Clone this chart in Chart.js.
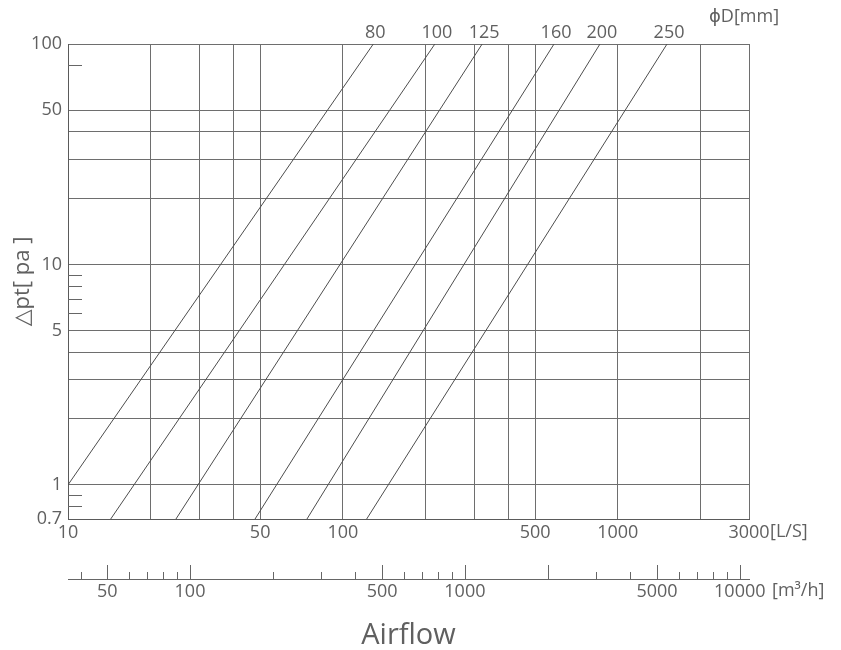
<!DOCTYPE html>
<html>
<head>
<meta charset="utf-8">
<script src="https://cdn.jsdelivr.net/npm/chart.js@4"></script>
<style>
html,body{margin:0;padding:0;background:#fff}
#wrap{width:841px;height:650px}
</style>
</head>
<body>
<div id="wrap"><canvas id="chart"></canvas></div>
<script>
// Duct diameters and the two ends of each pressure-loss line
const diameters = ['80','100','125','160','200','250'];
const flowLow = [10, 14.3, 24.7, 47.9, 74, 122];        // L/s
const dpLow = [1, 0.7, 0.7, 0.7, 0.7, 0.7];             // Pa
const flowHigh = [129, 216, 321, 586, 861, 1510];
const dpHigh = [100, 100, 100, 100, 100, 100];

// Axes
const flowGrid = [10,20,30,40,50,100,200,300,400,500,1000,2000,3000];
const flowLabels = [10,50,100,500,1000,3000];
const dpGrid = [0.7,1,2,3,4,5,10,20,30,40,50,100];
const dpLabels = [0.7,1,5,10,50,100];
const dpMinor = [0.8,0.9,6,7,8,9,80];
const m3hTicks = [40,50,60,70,80,90,100,200,300,400,500,600,700,800,900,1000,2000,3000,4000,5000,6000,7000,8000,9000,10000];
const m3hMajor = [50,100,500,1000,2000,5000,10000];
const m3hLabels = [50,100,500,1000,5000,10000];

const textColor = '#606060';
const gridColor = '#6e6e6e';
const family = '"Open Sans", "DejaVu Sans", sans-serif';
const tickFont = {family, size:18};

const datasets = diameters.map((d,i)=>({
  label:d,
  data:[{x:flowLow[i], y:dpLow[i]}, {x:flowHigh[i], y:dpHigh[i]}],
  borderColor:'#4d4d4d',
  borderWidth:1,
  pointRadius:0,
  fill:false,
  tension:0
}));

// minor ticks, line names and unit labels
const extras = {
  id:'extras',
  afterDraw(chart){
    const {ctx, chartArea:a, scales:{x, y, x2}} = chart;
    ctx.save();
    ctx.strokeStyle = '#666';
    ctx.lineWidth = 1;
    ctx.beginPath();
    dpMinor.forEach(v=>{
      const py = Math.round(y.getPixelForValue(v)) + 0.5;
      ctx.moveTo(a.left, py); ctx.lineTo(a.left + 14, py);
    });
    m3hTicks.forEach(v=>{
      const px = Math.round(x2.getPixelForValue(v)) + 0.5;
      const len = m3hMajor.includes(v) ? 14 : 7;
      ctx.moveTo(px, x2.top); ctx.lineTo(px, x2.top - len);
    });
    ctx.stroke();

    ctx.fillStyle = textColor;
    ctx.font = '18px ' + family;
    ctx.textBaseline = 'middle';
    ctx.textAlign = 'center';
    chart.data.datasets.forEach((ds,i)=>{
      const pts = chart.getDatasetMeta(i).data;
      const p = pts[pts.length-1];
      ctx.fillText(ds.label, p.x + 2, p.y - 11);
    });
    ctx.textAlign = 'left';
    ctx.fillText('[L/S]', a.right + 21, x.top + 13);
    ctx.fillText('[m³/h]', a.right + 23, x2.top + 12);
    ctx.fillText('ϕD[mm]', a.right - 40, a.top - 27);
    ctx.restore();
  }
};

new Chart(document.getElementById('chart'), {
  type:'line',
  data:{datasets},
  plugins:[extras],
  options:{
    responsive:true,
    maintainAspectRatio:false,
    animation:false,
    layout:{padding:{top:44, right:92, left:0, bottom:0}},
    plugins:{legend:{display:false}, tooltip:{enabled:false}},
    scales:{
      x:{
        type:'logarithmic', position:'bottom', min:10, max:3000,
        afterBuildTicks:s=>{ s.ticks = flowGrid.map(v=>({value:v})); },
        afterFit:s=>{ s.height = 60; },
        ticks:{autoSkip:false, maxRotation:0, padding:3, color:textColor, font:tickFont,
          callback:v=>flowLabels.includes(v) ? String(v) : ''},
        grid:{color:gridColor, drawTicks:false},
        border:{color:'#5a5a5a'}
      },
      x2:{
        type:'logarithmic', position:'bottom', weight:1, min:36, max:10800,
        afterBuildTicks:s=>{ s.ticks = m3hLabels.map(v=>({value:v})); },
        afterFit:s=>{ s.height = 71; },
        ticks:{autoSkip:false, maxRotation:0, padding:2, color:textColor, font:tickFont,
          callback:v=>String(v)},
        grid:{drawOnChartArea:false, drawTicks:false},
        border:{color:'#666'},
        title:{display:true, text:'Airflow', color:textColor, font:{family, size:29, lineHeight:1}, padding:0}
      },
      y:{
        type:'logarithmic', min:0.7, max:100,
        afterBuildTicks:s=>{ s.ticks = dpGrid.map(v=>({value:v})); },
        afterFit:s=>{ s.width = 68; },
        ticks:{autoSkip:false, padding:6, color:textColor, font:tickFont,
          callback:v=>dpLabels.includes(v) ? String(v) : ''},
        grid:{color:gridColor, drawTicks:false},
        border:{color:'#5a5a5a'},
        title:{display:true, text:'△pt[ pa ]', color:textColor, font:{family, size:22, lineHeight:1}, padding:{top:12, bottom:0}}
      }
    }
  }
});
</script>
</body>
</html>
